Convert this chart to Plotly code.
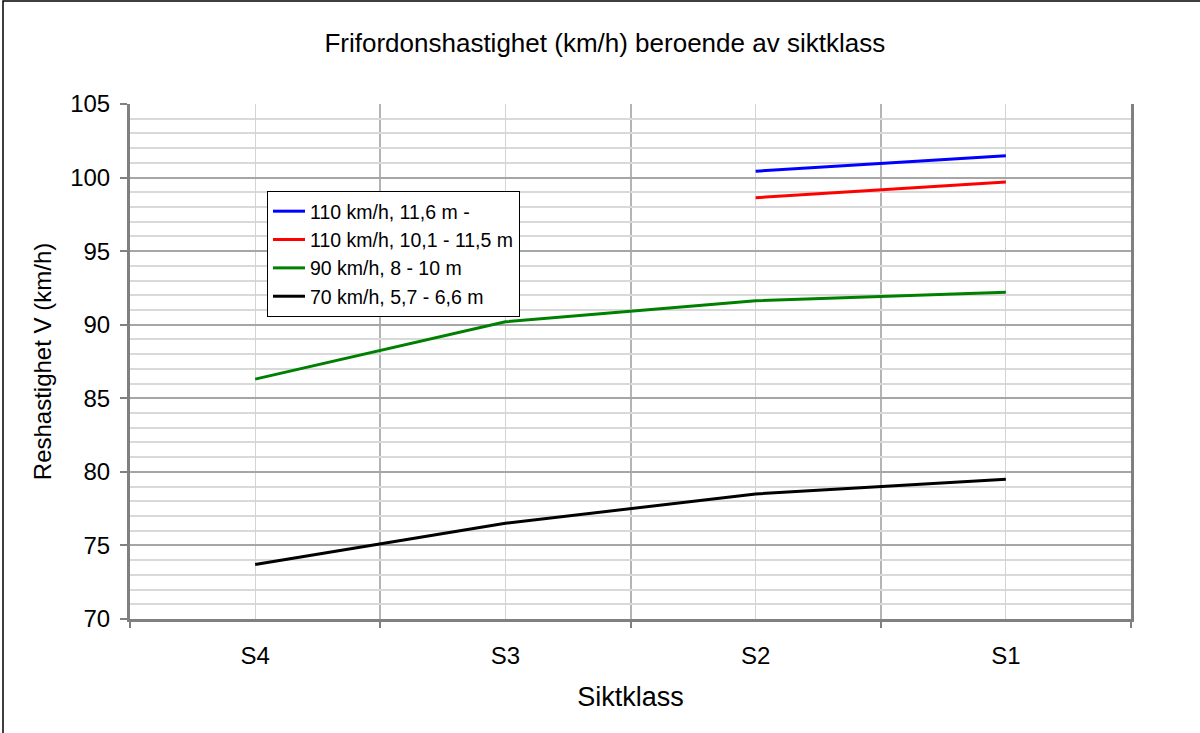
import plotly.graph_objects as go

categories = ["S4", "S3", "S2", "S1"]
series_names = ["110 km/h, 11,6 m -", "110 km/h, 10,1 - 11,5 m", "90 km/h, 8 - 10 m", "70 km/h, 5,7 - 6,6 m"]
v_110_high = [None, None, 100.43, 101.49]
v_110_mid = [None, None, 98.63, 99.70]
v_90 = [86.3, 90.2, 91.63, 92.2]
v_70 = [73.7, 76.5, 78.5, 79.5]
colors = ["#0000ff", "#ff0000", "#008000", "#000000"]
y_ticks = [70, 75, 80, 85, 90, 95, 100, 105]

FONT = "Liberation Sans, Arial, sans-serif"
xs = list(range(len(categories)))

fig = go.Figure()
for name, vals, col in zip(series_names, [v_110_high, v_110_mid, v_90, v_70], colors):
    fig.add_trace(go.Scatter(x=xs, y=vals, mode="lines", name=name,
                             line=dict(color=col, width=3), connectgaps=False))

W, H = 1200, 733
L, R, T, B = 130, 69, 104, 114
pw, ph = W - L - R, H - T - B

# outer chart border
fig.add_shape(type="rect", xref="paper", yref="paper",
              x0=(3 - L) / pw, x1=(1210 - L) / pw,
              y0=(H - B - 745) / ph, y1=(H - B - 1) / ph,
              line=dict(color="black", width=1.5), layer="below")

fig.update_layout(
    width=W, height=H,
    margin=dict(l=L, r=R, t=T, b=B),
    paper_bgcolor="white", plot_bgcolor="white",
    font=dict(family=FONT, color="black"),
    title=dict(text="Frifordonshastighet (km/h) beroende av siktklass",
               x=0.504, xref="container", xanchor="center",
               y=1 - 43 / H, yref="container", yanchor="middle",
               font=dict(size=26, family=FONT)),
    showlegend=True,
    legend=dict(x=(267 - L) / pw, y=(H - B - 191) / ph, xanchor="left", yanchor="top",
                bgcolor="white", bordercolor="black", borderwidth=1,
                font=dict(size=19.5, family=FONT), itemwidth=32,
                tracegroupgap=0),
    xaxis=dict(
        range=[-0.5, len(categories) - 0.5],
        tickmode="array", tickvals=xs, ticktext=categories,
        ticks="outside", ticklen=13, tickcolor="rgba(0,0,0,0)",
        tickfont=dict(size=24, family=FONT),
        showgrid=True, gridcolor="#d4d4d4", gridwidth=1,
        minor=dict(tickmode="array", tickvals=[i - 0.5 for i in range(len(categories) + 1)],
                   ticks="outside", ticklen=6, tickcolor="#808080", tickwidth=2,
                   showgrid=True, gridcolor="#b4b4b4", gridwidth=1.5),
        showline=True, linecolor="#808080", linewidth=3,
        zeroline=False,
        title=dict(text="Siktklass", font=dict(size=27, family=FONT), standoff=20),
    ),
    yaxis=dict(
        range=[70, 105],
        tickmode="array", tickvals=y_ticks,
        ticks="outside", ticklen=7, tickcolor="#808080", tickwidth=2,
        ticklabelstandoff=5,
        tickfont=dict(size=24, family=FONT),
        showgrid=True, gridcolor="#a6a6a6", gridwidth=1.5,
        minor=dict(dtick=1, tick0=70, showgrid=True, gridcolor="#d9d9d9", gridwidth=1.5),
        showline=True, linecolor="#808080", linewidth=3, mirror=True,
        zeroline=False,
        title=dict(text="Reshastighet V (km/h)", font=dict(size=24, family=FONT), standoff=12),
    ),
)

fig.write_html("out.html", config={"displayModeBar": False},
               post_script="document.body.style.margin='0';document.body.style.overflow='hidden';")
